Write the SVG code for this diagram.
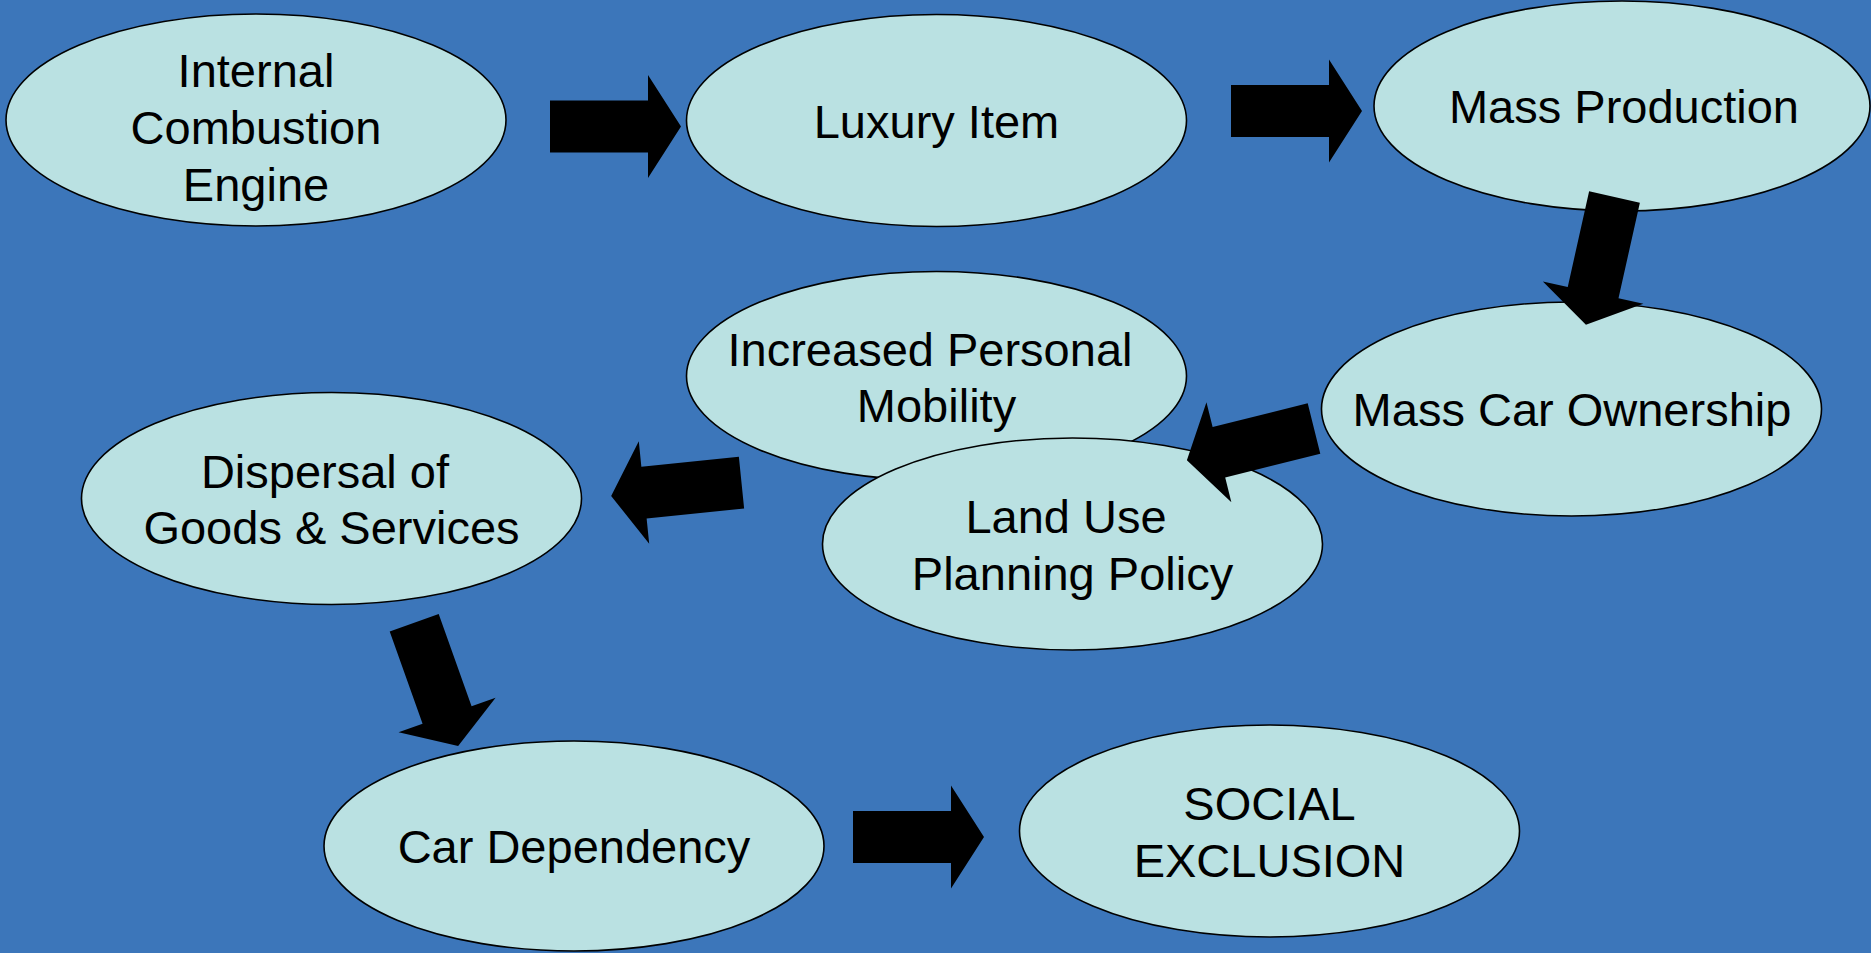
<svg xmlns="http://www.w3.org/2000/svg" xmlns:xlink="http://www.w3.org/1999/xlink" width="1871" height="953" viewBox="0 0 1871 953">
<style>
.node ellipse{fill:#bae1e2;stroke:#000;stroke-width:1.6}
.node text{font-family:"Liberation Sans",Arial,sans-serif;font-size:47px;fill:#000;text-anchor:middle}
.arrow{fill:#000}
</style>
<defs>
<polygon id="arr" points="0,-26 98,-26 98,-51.5 131,0 98,51.5 98,26 0,26"/>
</defs>
<rect width="1871" height="953" fill="#3c76ba"/>
<g id="n_ice" class="node"><ellipse cx="256" cy="120" rx="250" ry="106"/><text x="256" y="87">Internal</text><text x="256" y="144">Combustion</text><text x="256" y="201">Engine</text></g>
<g id="n_luxury" class="node"><ellipse cx="936.5" cy="120.5" rx="250" ry="106"/><text x="936.5" y="137.5">Luxury Item</text></g>
<g id="n_massprod" class="node"><ellipse cx="1622" cy="106" rx="248" ry="105"/><text x="1624" y="123">Mass Production</text></g>
<g id="n_masscar" class="node"><ellipse cx="1571.5" cy="409" rx="250" ry="107"/><text x="1572" y="426">Mass Car Ownership</text></g>
<g id="n_mobility" class="node"><ellipse cx="936.5" cy="376" rx="250" ry="104.5"/><text x="930" y="366">Increased Personal</text><text x="936.5" y="422">Mobility</text></g>
<g id="n_landuse" class="node"><ellipse cx="1072.5" cy="544" rx="250" ry="106"/><text x="1066" y="533">Land Use</text><text x="1072.5" y="590">Planning Policy</text></g>
<g id="n_dispersal" class="node"><ellipse cx="331.5" cy="498.5" rx="250" ry="106"/><text x="325" y="487.5">Dispersal of</text><text x="331.5" y="544">Goods &amp; Services</text></g>
<g id="n_cardep" class="node"><ellipse cx="574" cy="846" rx="250" ry="105"/><text x="574" y="863">Car Dependency</text></g>
<g id="n_social" class="node"><ellipse cx="1269.5" cy="831" rx="250" ry="106"/><text x="1269.5" y="820">SOCIAL</text><text x="1269.5" y="877">EXCLUSION</text></g>
<g id="connectors" class="arrow">
<use xlink:href="#arr" transform="translate(550,126.5)"/>
<use xlink:href="#arr" transform="translate(1231,111)"/>
<use xlink:href="#arr" transform="translate(1614.5,197) rotate(102.6)"/>
<use xlink:href="#arr" transform="translate(1314,428.5) rotate(166)"/>
<use xlink:href="#arr" transform="translate(741.5,482.7) rotate(174.2)"/>
<use xlink:href="#arr" transform="translate(414.2,622.7) rotate(70.4)"/>
<use xlink:href="#arr" transform="translate(853,837)"/>
</g>
</svg>
